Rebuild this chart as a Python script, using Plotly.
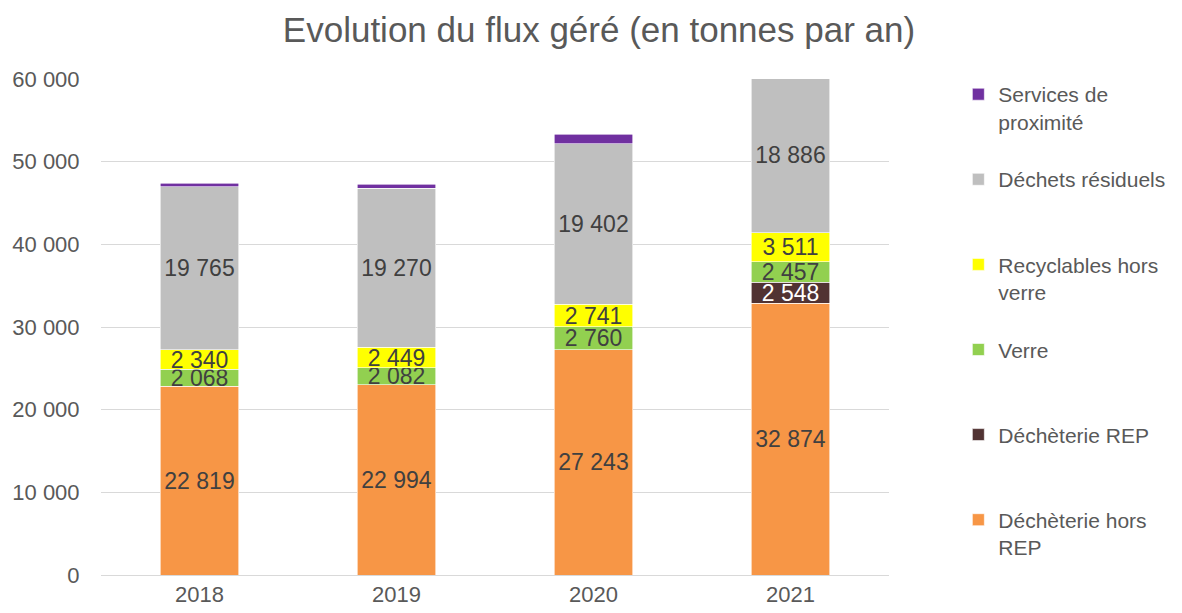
import plotly.graph_objects as go

# Data (tonnes per year)
years = ["2018", "2019", "2020", "2021"]
dech_hors_rep = [22819, 22994, 27243, 32874]
dech_rep = [None, None, None, 2548]
verre = [2068, 2082, 2760, 2457]
recyclables = [2340, 2449, 2741, 3511]
residuels = [19765, 19270, 19402, 18886]
services = [400, 450, 1150, 1200]

# name, values, colour, label colour, show label
series = [
    ("Déchèterie hors<br>REP", dech_hors_rep, "#F79646", "#404040", True),
    ("Déchèterie REP<br> ", dech_rep, "#513333", "#FFFFFF", True),
    ("Verre<br> ", verre, "#92D050", "#404040", True),
    ("Recyclables hors<br>verre", recyclables, "#FFFF00", "#404040", True),
    ("Déchets résiduels<br> ", residuels, "#BFBFBF", "#404040", True),
    ("Services de<br>proximité", services, "#7030A0", "#404040", False),
]

fig = go.Figure()
for i, (name, vals, color, txtcol, show_text) in enumerate(series):
    fig.add_trace(go.Bar(
        x=years,
        y=vals,
        name=name,
        legendgroup=f"g{i}",
        legendrank=len(series) - i,
        marker=dict(color=color, line=dict(color="white", width=0.6)),
        texttemplate="%{y:,}" if show_text else None,
        textposition="inside" if show_text else "none",
        insidetextanchor="middle",
        textangle=0,
        insidetextfont=dict(color=txtcol, size=23, family="Liberation Sans"),
        hoverinfo="x+y+name",
    ))

fig.update_layout(
    barmode="stack",
    bargap=0.6,
    separators=", ",
    width=1182,
    height=613,
    margin=dict(l=93, r=301, t=71, b=46, autoexpand=False),
    paper_bgcolor="white",
    plot_bgcolor="white",
    font=dict(family="Liberation Sans", color="#595959", size=22),
    title=dict(
        text="Evolution du flux géré (en tonnes par an)",
        x=0.5, xref="container", xanchor="center",
        y=0.964, yref="container", yanchor="middle",
        font=dict(size=35, color="#595959"),
    ),
    uniformtext=dict(mode="show", minsize=23),
    legend=dict(
        x=1.088, xanchor="left",
        y=1.01, yanchor="top",
        traceorder="grouped",
        tracegroupgap=27.5,
        valign="top",
        maxheight=600,
        font=dict(size=21, color="#595959"),
        itemwidth=30,
        bgcolor="rgba(0,0,0,0)",
    ),
    xaxis=dict(
        showgrid=False,
        showline=True,
        linecolor="#D9D9D9",
        linewidth=1,
        ticks="",
        automargin=False,
        tickfont=dict(size=22, color="#595959"),
    ),
    yaxis=dict(
        range=[0, 60000],
        dtick=10000,
        tickformat=",",
        showgrid=True,
        gridcolor="#D9D9D9",
        gridwidth=1,
        zeroline=False,
        showline=False,
        ticks="outside",
        ticklen=16,
        tickcolor="white",
        automargin=False,
        tickfont=dict(size=22, color="#595959"),
    ),
)

fig.write_html("out.html")
